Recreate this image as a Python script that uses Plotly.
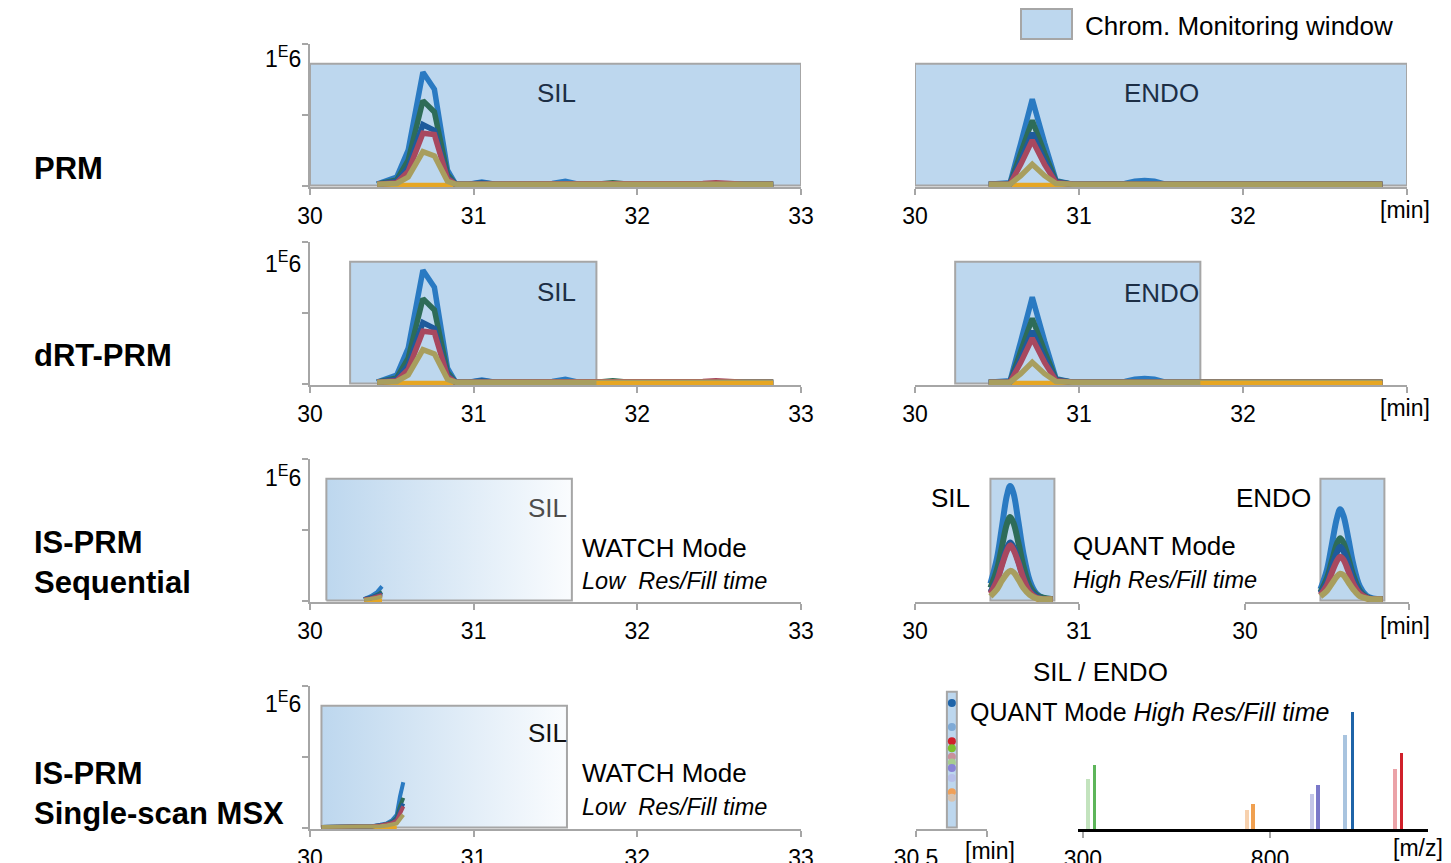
import plotly.graph_objects as go

W, H = 1451, 863
FONT = "Liberation Sans, Arial, sans-serif"
GRAY = "#A6A6A6"
BOXFILL = "#BDD7EE"

# ---------------- data ----------------
series_keys = ["orange", "blue", "green", "darkblue", "red", "olive"]
series_colors = {
    "blue": "#2A7AC2", "green": "#2E6C58", "darkblue": "#1E5B9C",
    "red": "#A8485F", "olive": "#A89E5E", "orange": "#E6A623",
}

# PRM / dRT-PRM, SIL chromatogram (retention time in min, intensity in 1E6)
prm_sil_t = [30.41, 30.53, 30.60, 30.69, 30.76, 30.84, 30.89, 30.97, 31.05, 31.13, 31.25, 31.40, 31.48,
             31.56, 31.64, 31.75, 31.85, 31.95, 32.10, 32.25, 32.40, 32.48, 32.56, 32.65, 32.83]
prm_sil = {
    "blue":     [0.01, 0.06, 0.25, 0.80, 0.68, 0.11, 0.01, 0.01, 0.025, 0.01, 0.01, 0.01, 0.015,
                 0.03, 0.01, 0.01, 0.01, 0.01, 0.01, 0.01, 0.01, 0.01, 0.01, 0.01, 0.01],
    "green":    [0.01, 0.04, 0.18, 0.60, 0.52, 0.08, 0.01, 0.01, 0.015, 0.01, 0.01, 0.01, 0.01,
                 0.01, 0.01, 0.01, 0.02, 0.01, 0.01, 0.01, 0.01, 0.01, 0.01, 0.01, 0.01],
    "darkblue": [0.01, 0.03, 0.13, 0.43, 0.39, 0.06, 0.01, 0.01, 0.02, 0.01, 0.01, 0.01, 0.01,
                 0.015, 0.01, 0.01, 0.01, 0.01, 0.01, 0.01, 0.01, 0.01, 0.01, 0.01, 0.01],
    "red":      [0.01, 0.02, 0.10, 0.37, 0.36, 0.05, 0.01, 0.01, 0.01, 0.01, 0.01, 0.01, 0.01,
                 0.01, 0.01, 0.01, 0.015, 0.01, 0.01, 0.01, 0.015, 0.02, 0.015, 0.01, 0.01],
    "olive":    [0.01, 0.015, 0.06, 0.24, 0.21, 0.03, 0.01, 0.01, 0.01, 0.01, 0.01, 0.01, 0.01,
                 0.01, 0.01, 0.01, 0.01, 0.01, 0.01, 0.01, 0.01, 0.01, 0.01, 0.01, 0.01],
    "orange":   [0.0] * 25,
}

# PRM / dRT-PRM, ENDO chromatogram
prm_endo_t = [30.45, 30.58, 30.645, 30.715, 30.79, 30.86, 30.96, 31.10, 31.28, 31.34, 31.40, 31.46,
              31.52, 31.70, 32.00, 32.30, 32.60, 32.85]
prm_endo = {
    "blue":     [0.01, 0.02, 0.30, 0.61, 0.30, 0.035, 0.01, 0.01, 0.015, 0.03, 0.035, 0.03,
                 0.012, 0.01, 0.01, 0.01, 0.01, 0.01],
    "green":    [0.01, 0.015, 0.23, 0.46, 0.23, 0.03, 0.01, 0.01, 0.01, 0.01, 0.01, 0.01,
                 0.01, 0.01, 0.01, 0.01, 0.01, 0.01],
    "darkblue": [0.01, 0.015, 0.18, 0.37, 0.18, 0.025, 0.01, 0.01, 0.01, 0.01, 0.01, 0.01,
                 0.01, 0.01, 0.01, 0.01, 0.01, 0.01],
    "red":      [0.01, 0.012, 0.15, 0.32, 0.15, 0.02, 0.01, 0.01, 0.01, 0.01, 0.01, 0.01,
                 0.01, 0.01, 0.01, 0.01, 0.01, 0.01],
    "olive":    [0.01, 0.01, 0.07, 0.15, 0.07, 0.015, 0.01, 0.01, 0.01, 0.01, 0.01, 0.01,
                 0.01, 0.01, 0.01, 0.01, 0.01, 0.01],
    "orange":   [0.0] * 18,
}

# IS-PRM sequential, WATCH mode (SIL)
watch_seq_t = [30.33, 30.37, 30.41, 30.44]
watch_seq = {
    "blue": [0.01, 0.03, 0.06, 0.10], "green": [0.01, 0.02, 0.04, 0.06],
    "darkblue": [0.01, 0.02, 0.035, 0.05], "red": [0.01, 0.015, 0.03, 0.04],
    "olive": [0.005, 0.01, 0.02, 0.03], "orange": [0.0, 0.0, 0.0, 0.0],
}

# IS-PRM sequential, QUANT mode (SIL and ENDO)
quant_t = [30.46, 30.50, 30.53, 30.56, 30.58, 30.60, 30.63, 30.66, 30.70, 30.74, 30.78, 30.84]
quant_sil = {
    "blue":     [0.12, 0.30, 0.52, 0.74, 0.81, 0.76, 0.56, 0.34, 0.14, 0.05, 0.02, 0.01],
    "green":    [0.09, 0.22, 0.38, 0.54, 0.59, 0.55, 0.41, 0.25, 0.10, 0.04, 0.02, 0.01],
    "darkblue": [0.06, 0.15, 0.26, 0.37, 0.41, 0.38, 0.28, 0.17, 0.07, 0.03, 0.01, 0.01],
    "red":      [0.05, 0.14, 0.25, 0.35, 0.39, 0.36, 0.27, 0.16, 0.06, 0.02, 0.01, 0.01],
    "olive":    [0.03, 0.08, 0.14, 0.19, 0.21, 0.20, 0.15, 0.09, 0.04, 0.015, 0.01, 0.01],
    "orange":   [None, None, None, None, None, None, None, None, None, 0.0, 0.0, 0.0],
}
quant_endo = {
    "blue":     [0.08, 0.22, 0.40, 0.58, 0.645, 0.60, 0.44, 0.26, 0.10, 0.035, 0.015, 0.01],
    "green":    [0.06, 0.16, 0.28, 0.40, 0.44, 0.41, 0.30, 0.18, 0.07, 0.025, 0.01, 0.01],
    "darkblue": [0.05, 0.13, 0.24, 0.34, 0.38, 0.35, 0.26, 0.15, 0.06, 0.02, 0.01, 0.01],
    "red":      [0.04, 0.11, 0.20, 0.28, 0.31, 0.29, 0.21, 0.12, 0.05, 0.02, 0.01, 0.01],
    "olive":    [0.03, 0.07, 0.12, 0.17, 0.19, 0.18, 0.13, 0.08, 0.03, 0.015, 0.01, 0.01],
    "orange":   [None, None, None, None, None, None, None, None, None, 0.0, 0.0, 0.0],
}

# IS-PRM single-scan MSX, WATCH mode (SIL)
watch_msx_t = [30.07, 30.20, 30.30, 30.38, 30.43, 30.47, 30.50, 30.53, 30.55, 30.57]
watch_msx = {
    "blue":     [0.005, 0.005, 0.005, 0.01, 0.02, 0.03, 0.05, 0.09, 0.22, 0.32],
    "green":    [0.005, 0.005, 0.005, 0.01, 0.015, 0.025, 0.04, 0.07, 0.15, 0.21],
    "darkblue": [0.005, 0.005, 0.005, 0.01, 0.015, 0.02, 0.035, 0.06, 0.12, 0.17],
    "red":      [0.005, 0.005, 0.005, 0.01, 0.015, 0.02, 0.03, 0.05, 0.10, 0.15],
    "olive":    [0.005, 0.005, 0.005, 0.005, 0.01, 0.015, 0.02, 0.03, 0.06, 0.09],
    "orange":   [0.0, 0.0, 0.0, 0.0, 0.0, 0.0, 0.0, 0.0, None, None],
}

# Monitoring windows [start, end] in min, height in 1E6
win_prm = [30.0, 33.0]
win_drt = [30.245, 31.75]
win_drt_endo = [30.245, 31.74]
win_watch_seq = [30.10, 31.60]
win_quant = [30.46, 30.85]
win_watch_msx = [30.07, 31.57]
win_msx_scan = [30.587, 30.615]
win_height = 0.86
win_msx_scan_height = 0.96

# Single-scan MSX: scan points (intensity position) of the transitions
msx_point_y = [0.88, 0.71, 0.61, 0.56, 0.50, 0.46, 0.42, 0.35, 0.25, 0.21]
msx_point_colors = ["#1F64A8", "#7FAAD6", "#D0202A", "#7DBF2E", "#C9909B",
                    "#A7CC8F", "#8A84D6", "#B7BFEA", "#F0A058", "#D9C3AE"]
msx_point_t = 30.601

# MS spectrum (m/z, relative intensity) -- light = SIL/ENDO pair partner
spec_mz = [313, 331, 738, 754, 913, 929, 1001, 1020, 1134, 1151]
spec_int = [43, 55, 16, 21, 30, 38, 80, 100, 51, 65]
spec_colors = ["#C3E3BE", "#5DB55A", "#F7D1AE", "#F0A050", "#C4C6E8", "#7B79C9",
               "#A9C4DF", "#1F64A8", "#EBA3A8", "#D0202A"]

# ---------------- helpers ----------------
def xdom(a, b):
    return [a / W, b / W]

def ydom(top, bottom):
    return [1 - bottom / H, 1 - top / H]

def px(x):
    return x / W

def py(y):
    return 1 - y / H

fig = go.Figure()
layout = {}

def axis_pair(n, xd, yd, xr, yr, tickvals, ticktext, show_y, xline=GRAY, xlw=2):
    xs = "xaxis" if n == 1 else f"xaxis{n}"
    ys = "yaxis" if n == 1 else f"yaxis{n}"
    layout[xs] = dict(domain=xd, range=xr, anchor=f"y{n}" if n > 1 else "y", automargin=False,
                      showline=True, linecolor=xline, linewidth=xlw, showgrid=False,
                      zeroline=False, ticks="outside", ticklen=6, tickwidth=2, tickcolor=GRAY,
                      tickvals=tickvals, ticktext=ticktext, ticklabelstandoff=1,
                      tickfont=dict(size=23, color="black", family=FONT), fixedrange=True)
    layout[ys] = dict(domain=yd, range=yr, anchor=f"x{n}" if n > 1 else "x", automargin=False,
                      visible=show_y, showline=True, linecolor=GRAY, linewidth=2,
                      showgrid=False, zeroline=False, ticks="outside", ticklen=6, tickwidth=2,
                      tickcolor=GRAY, tickvals=[0, 0.5, 1], showticklabels=False, fixedrange=True)

YR = [-0.01, 1.0]
rows = [(44, 187), (242, 385), (459, 602), (686, 829)]
L, R = (310, 801), (915, 1407)
t4 = [30, 31, 32, 33]

axis_pair(1, xdom(*L), ydom(*rows[0]), [30, 33], YR, t4, ["30", "31", "32", "33"], True)
axis_pair(2, xdom(*R), ydom(*rows[0]), [30, 33], YR, t4, ["30", "31", "32", " "], False)
axis_pair(3, xdom(*L), ydom(*rows[1]), [30, 33], YR, t4, ["30", "31", "32", "33"], True)
axis_pair(4, xdom(*R), ydom(*rows[1]), [30, 33], YR, t4, ["30", "31", "32", " "], False)
axis_pair(5, xdom(*L), ydom(*rows[2]), [30, 33], YR, t4, ["30", "31", "32", "33"], True)
axis_pair(6, xdom(915, 1079), ydom(*rows[2]), [30, 31], YR, [30, 31], ["30", "31"], False)
axis_pair(7, xdom(1245, 1409), ydom(*rows[2]), [30, 31], YR, [30, 31], ["30", " "], False)
axis_pair(8, xdom(*L), ydom(*rows[3]), [30, 33], YR, t4, ["30", "31", "32", "33"], True)
axis_pair(9, xdom(916, 987), ydom(*rows[3]), [30.5, 30.7], YR, [30.5, 30.7], ["30.5", " "], False)
axis_pair(10, xdom(1078, 1428), ydom(712, 829), [287, 1222], [0, 100], [300, 800], ["300", "800"],
          False, xline="black", xlw=3)

shapes = []

def box(n, win, top):
    shapes.append(dict(type="rect", xref=f"x{n}", yref=f"y{n}", x0=win[0], x1=win[1], y0=0, y1=top,
                       fillcolor=BOXFILL, line=dict(color=GRAY, width=2), layer="below"))

def grad_box(n, win, top):
    fig.add_trace(go.Scatter(
        x=[win[0], win[1], win[1], win[0], win[0]], y=[0, 0, top, top, 0],
        xaxis=f"x{n}", yaxis=f"y{n}", mode="lines", fill="toself",
        fillgradient=dict(type="horizontal", colorscale=[[0, BOXFILL], [1, "#FAFCFE"]]),
        line=dict(color=GRAY, width=2), hoverinfo="skip", showlegend=False))

def chrom(n, t, data, width=5.5, shape="linear"):
    for k in series_keys:
        fig.add_trace(go.Scatter(x=t, y=data[k], xaxis=f"x{n}", yaxis=f"y{n}", mode="lines",
                                 line=dict(color=series_colors[k], width=width, shape=shape),
                                 hoverinfo="skip", showlegend=False, connectgaps=False))

def orange_outside(n, t, win):
    xs = [v for v in t if v >= win[1]]
    fig.add_trace(go.Scatter(x=[win[1]] + xs, y=[0] * (len(xs) + 1), xaxis=f"x{n}", yaxis=f"y{n}",
                             mode="lines", line=dict(color=series_colors["orange"], width=5),
                             hoverinfo="skip", showlegend=False))

# Row 1: PRM
box(1, win_prm, win_height)
box(2, win_prm, win_height)
chrom(1, prm_sil_t, prm_sil)
chrom(2, prm_endo_t, prm_endo)
# Row 2: dRT-PRM
box(3, win_drt, win_height)
box(4, win_drt_endo, win_height)
chrom(3, prm_sil_t, prm_sil)
chrom(4, prm_endo_t, prm_endo)
orange_outside(3, prm_sil_t, win_drt)
orange_outside(4, prm_endo_t, win_drt_endo)
# Row 3: IS-PRM sequential
grad_box(5, win_watch_seq, win_height)
chrom(5, watch_seq_t, watch_seq, width=4)
box(6, win_quant, win_height)
box(7, win_quant, win_height)
chrom(6, quant_t, quant_sil, width=6, shape="spline")
chrom(7, quant_t, quant_endo, width=6, shape="spline")
# Row 4: IS-PRM single-scan MSX
grad_box(8, win_watch_msx, win_height)
chrom(8, watch_msx_t, watch_msx, width=4)
box(9, win_msx_scan, win_msx_scan_height)
fig.add_trace(go.Scatter(x=[msx_point_t] * len(msx_point_y), y=msx_point_y, xaxis="x9", yaxis="y9",
                         mode="markers", marker=dict(color=msx_point_colors, size=8),
                         hoverinfo="skip", showlegend=False))
fig.add_trace(go.Bar(x=spec_mz, y=spec_int, xaxis="x10", yaxis="y10", width=10,
                     marker=dict(color=spec_colors, line=dict(width=0)),
                     hoverinfo="skip", showlegend=False))

# legend swatch
shapes.append(dict(type="rect", xref="paper", yref="paper", x0=px(1021), x1=px(1072), y0=py(39), y1=py(9),
                   fillcolor=BOXFILL, line=dict(color=GRAY, width=2)))

ann = []

def text(s, x, y, size=25, anchor="center", color="black", bold=False):
    if bold:
        s = "<b>" + s.replace("<br>", "</b><br><b>") + "</b>"
    ann.append(dict(text=s, x=px(x), y=py(y), xref="paper", yref="paper", showarrow=False,
                    xanchor=anchor, yanchor="middle", align=anchor if anchor != "center" else "center",
                    font=dict(size=size, color=color, family=FONT)))

text("Chrom. Monitoring window", 1083, 26, size=26, anchor="left")
text("PRM", 32, 168, size=31, anchor="left", bold=True)
text("dRT-PRM", 32, 355, size=31, anchor="left", bold=True)
text("IS-PRM<br>Sequential", 32, 562, size=31, anchor="left", bold=True)
text("IS-PRM<br>Single-scan MSX", 32, 793, size=31, anchor="left", bold=True)
for yy in [57, 262, 476, 702]:
    text("1<sup>E</sup>6", 303, yy, size=23, anchor="right")

NAVY = "#1C2E45"
text("SIL", 556, 93, size=26, color=NAVY)
text("ENDO", 1161, 93, size=26, color=NAVY)
text("SIL", 556, 292, size=26, color=NAVY)
text("ENDO", 1161, 293, size=26, color=NAVY)

text("SIL", 569, 508, size=26, anchor="right", color="#4D4D4D")
text("WATCH Mode", 580, 548, size=26, anchor="left")
text("<i>Low\u00a0\u00a0Res/Fill time</i>", 580, 581, size=23.5, anchor="left")
text("SIL", 951, 498, size=26)
text("ENDO", 1273, 498, size=26)
text("QUANT Mode", 1071, 546, size=26, anchor="left")
text("<i>High Res/Fill time</i>", 1071, 580, size=23.5, anchor="left")

text("SIL", 569, 733, size=26, anchor="right", color="#111111")
text("WATCH Mode", 580, 773, size=26, anchor="left")
text("<i>Low\u00a0\u00a0Res/Fill time</i>", 580, 807, size=23.5, anchor="left")
text("SIL / ENDO", 1100, 672, size=26)
text("QUANT Mode <i>High Res/Fill time</i>", 968, 712, size=25, anchor="left")

for (xx, yy) in [(1405, 210), (1405, 408), (1405, 626), (990, 851)]:
    text("[min]", xx, yy, size=23)
text("[m/z]", 1418, 848, size=23)

layout.update(dict(width=W, height=H, margin=dict(l=0, r=0, t=0, b=0, autoexpand=False),
                   paper_bgcolor="white", plot_bgcolor="rgba(0,0,0,0)",
                   font=dict(family=FONT, color="black"), showlegend=False,
                   shapes=shapes, annotations=ann, bargap=0))
fig.update_layout(**layout)
fig.write_html("out.html", config={"displayModeBar": False},
               post_script="document.body.style.margin='0';document.body.style.overflow='hidden';")
